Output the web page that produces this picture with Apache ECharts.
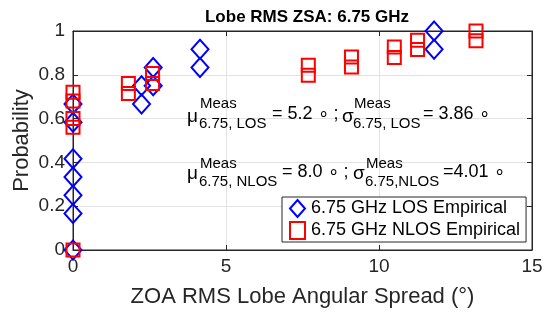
<!DOCTYPE html>
<html>
<head>
<meta charset="utf-8">
<script src="https://cdn.jsdelivr.net/npm/echarts@6/dist/echarts.min.js"></script>
<style>
  html, body { margin: 0; padding: 0; background: #fff; }
  #chart { width: 554px; height: 315px; }
</style>
</head>
<body>
<div id="chart"></div>
<script>
  // empirical CDF points
  var losX = [0, 0, 0, 0, 0, 0, 0, 2.24, 2.24, 2.62, 2.62, 4.15, 4.15, 11.8, 11.8];
  var losY = [0, 0.167, 0.25, 0.333, 0.417, 0.583, 0.667, 0.667, 0.75, 0.75, 0.833, 0.833, 0.917, 0.917, 1.0];
  var nlosX = [0, 0, 0, 0, 0, 1.81, 1.81, 2.6, 2.6, 7.69, 7.69, 9.1, 9.1, 10.5, 10.5, 11.26, 11.26, 13.17, 13.17];
  var nlosY = [0, 0.56, 0.60, 0.68, 0.72, 0.715, 0.76, 0.76, 0.806, 0.798, 0.844, 0.836, 0.881, 0.879, 0.927, 0.915, 0.958, 0.955, 1.0];
  var xTicks = [0, 5, 10, 15];
  var yTicks = [0, 0.2, 0.4, 0.6, 0.8, 1];

  function pairs(xs, ys) {
    var out = [];
    for (var i = 0; i < xs.length; i++) out.push([xs[i], ys[i]]);
    return out;
  }

  var font = '"Liberation Sans", Arial, Helvetica, sans-serif';
  var chart = echarts.init(document.getElementById('chart'));

  function txt(x, y, s, size) {
    return {
      type: 'text', x: x, y: y, z: 100, silent: true,
      style: { text: s, font: size + 'px ' + font, fill: '#000', verticalAlign: 'middle' }
    };
  }

  var option = {
    animation: false,
    textStyle: { fontFamily: font },
    title: {
      text: 'Lobe RMS ZSA: 6.75 GHz',
      left: 302, top: 4, textAlign: 'center',
      textStyle: { fontSize: 17, fontWeight: 'bold', color: '#000' }
    },
    grid: {
      left: 73, right: 22, top: 31, bottom: 65,
      show: true, borderColor: '#262626', borderWidth: 1, backgroundColor: '#fff'
    },
    legend: {
      orient: 'vertical',
      left: 282, top: 197,
      z: 50,
      backgroundColor: '#fff',
      borderColor: '#262626', borderWidth: 1, borderRadius: 0,
      padding: [2, 6, 2, 7],
      itemGap: 3,
      itemWidth: 15, itemHeight: 17,
      textStyle: { fontSize: 18, color: '#000', padding: [0, 0, 0, 1] },
      data: ['6.75 GHz LOS Empirical', '6.75 GHz NLOS Empirical']
    },
    xAxis: [{
      type: 'value', min: 0, max: 15, interval: 5,
      name: 'ZOA RMS Lobe Angular Spread (°)',
      nameLocation: 'middle', nameGap: 36,
      nameTextStyle: { fontSize: 22, color: '#262626' },
      axisLine: { onZero: false, lineStyle: { color: '#262626' } },
      axisTick: { inside: true, length: 5, lineStyle: { color: '#262626' } },
      axisLabel: {
        fontSize: 19, color: '#262626', margin: 7,
        formatter: function (v) { return xTicks.indexOf(v) >= 0 ? String(v) : ''; }
      },
      splitLine: { show: true, lineStyle: { color: '#e3e3e3' } }
    }, {
      type: 'value', min: 0, max: 15, interval: 5, position: 'top',
      axisLine: { onZero: false, lineStyle: { color: '#262626' } },
      axisTick: { inside: true, length: 5, lineStyle: { color: '#262626' } },
      axisLabel: { show: false }, splitLine: { show: false }
    }],
    yAxis: [{
      type: 'value', min: 0, max: 1, interval: 0.2,
      name: 'Probability',
      nameLocation: 'middle', nameGap: 40, nameRotate: 90,
      nameMoveOverlap: false,
      nameTextStyle: { fontSize: 22, color: '#262626' },
      axisLine: { show: true, onZero: false, lineStyle: { color: '#262626' } },
      axisTick: { show: true, inside: true, length: 5, lineStyle: { color: '#262626' } },
      axisLabel: {
        fontSize: 19, color: '#262626', margin: 8,
        formatter: function (v) {
          var r = Math.round(v * 10) / 10;
          return yTicks.indexOf(r) >= 0 ? String(r) : '';
        }
      },
      splitLine: { show: true, lineStyle: { color: '#e3e3e3' } }
    }, {
      type: 'value', min: 0, max: 1, interval: 0.2, position: 'right',
      axisLine: { show: true, onZero: false, lineStyle: { color: '#262626' } },
      axisTick: { show: true, inside: true, length: 5, lineStyle: { color: '#262626' } },
      axisLabel: { show: false }, splitLine: { show: false }
    }],
    series: [{
      name: '6.75 GHz LOS Empirical',
      type: 'scatter',
      clip: false,
      symbol: 'diamond',
      symbolSize: [17, 19],
      itemStyle: { color: 'rgba(0,0,0,0)', borderColor: '#0000ff', borderWidth: 2, opacity: 1 },
      data: pairs(losX, losY)
    }, {
      name: '6.75 GHz NLOS Empirical',
      type: 'scatter',
      clip: false,
      symbol: 'rect',
      symbolSize: 13,
      itemStyle: { color: 'rgba(0,0,0,0)', borderColor: '#ff0000', borderWidth: 2, opacity: 1 },
      data: pairs(nlosX, nlosY)
    }],
    graphic: [
      txt(187, 117, 'μ', 19), txt(200, 104, 'Meas', 15), txt(199, 124, '6.75, LOS', 15),
      txt(272, 114, '= 5.2 ∘ ;', 18),
      txt(342, 117, 'σ', 19), txt(354, 104, 'Meas', 15), txt(353, 124, '6.75, LOS', 15),
      txt(423, 114, '= 3.86 ∘', 18),
      txt(187, 174, 'μ', 19), txt(200, 164, 'Meas', 15), txt(199, 182, '6.75, NLOS', 15),
      txt(282, 172, '= 8.0 ∘ ;', 18),
      txt(353, 174, 'σ', 19), txt(366, 164, 'Meas', 15), txt(365, 182, '6.75,NLOS', 15),
      txt(443, 172, '=4.01 ∘', 18)
    ]
  };

  option && chart.setOption(option);
</script>
</body>
</html>
